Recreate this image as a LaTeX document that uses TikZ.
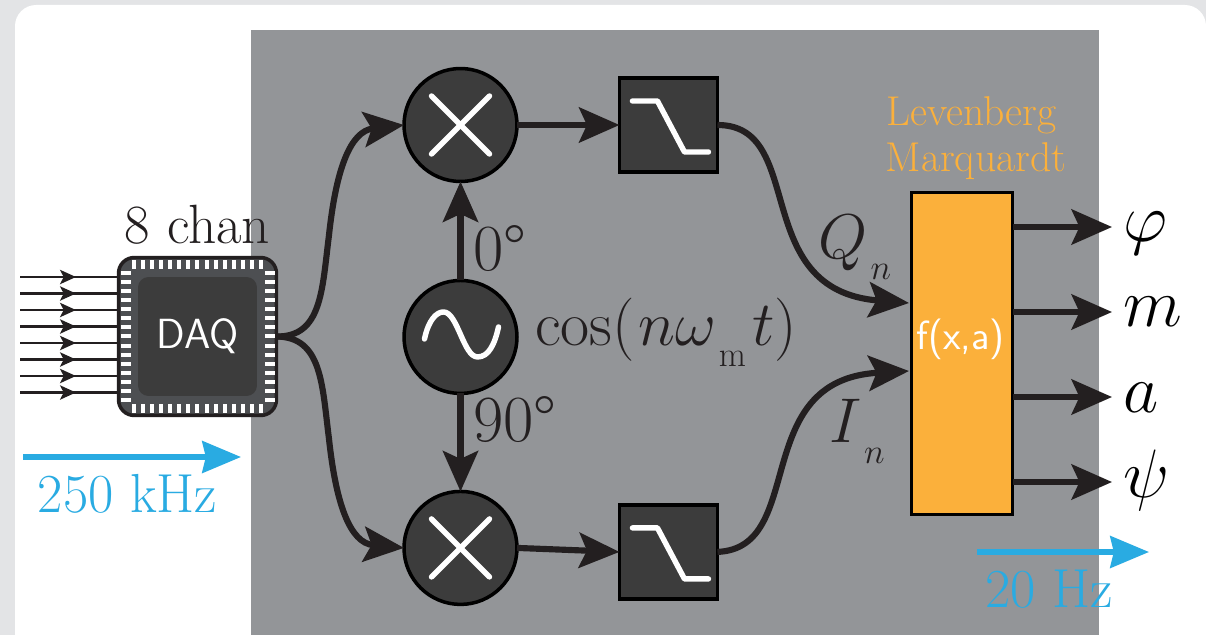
\documentclass[tikz,border=0pt]{standalone}
\usepackage{fix-cm}
\DeclareFontShape{OML}{cmm}{m}{it}{<->cmmi12}{\skewchar\font127 }
\DeclareFontShape{OMS}{cmsy}{m}{n}{<->cmsy10}{\skewchar\font48 }
\definecolor{panelgray}{HTML}{E3E4E6}
\definecolor{boxgray}{HTML}{939598}
\definecolor{darkfill}{HTML}{3C3C3C}
\definecolor{chipfill}{HTML}{4D4F52}
\definecolor{inkblack}{HTML}{231F20}
\definecolor{fitorange}{HTML}{FBB03B}
\definecolor{rateblue}{HTML}{29ABE2}
\usetikzlibrary{arrows.meta, positioning, calc}
\newcommand{\lowsub}[1]{\kern1.5pt\lower12pt\hbox{\fontsize{20}{20}\selectfont$#1$}}
\tikzset{
	mixer/.style={circle, draw=black, fill=darkfill, line width=2pt, minimum size=2.26cm, inner sep=0pt, outer sep=0pt},
	lowpass/.style={rectangle, draw=black, fill=darkfill, line width=2.2pt, minimum width=1.96cm, minimum height=1.88cm, inner sep=0pt, outer sep=0pt},
	chip/.style={rectangle, rounded corners=9pt, draw=inkblack, fill=chipfill, line width=2pt, minimum size=3.16cm, inner sep=0pt, outer sep=0pt},
	chipcore/.style={rectangle, rounded corners=6pt, fill=darkfill, minimum size=2.38cm, inner sep=0pt, text=white, font=\sffamily\fontsize{24}{28}\selectfont},
	fitbox/.style={rectangle, draw=black, fill=fitorange, line width=2.2pt, minimum width=2.02cm, minimum height=6.44cm, inner sep=0pt, outer sep=0pt},
	fitlabel/.style={inner sep=0pt, text=white, font=\sffamily\fontsize{23.2}{26}\selectfont},
	arrow/.style={-{Stealth[length=23pt, width=20pt, inset=4.5pt]}, line width=3.5pt, draw=inkblack},
	inarrow/.style={-{Stealth[length=9pt, width=8pt, inset=2pt]}, line width=1.7pt, draw=inkblack},
	inline/.style={line width=1.7pt, draw=inkblack},
	ratearrow/.style={-{Stealth[length=22pt, width=18pt, inset=2pt]}, line width=3.2pt, draw=rateblue},
	glyph/.style={draw=white, line width=3.1pt, line cap=round, line join=round},
	pin/.style={fill=white},
	maintext/.style={anchor=base, inner sep=0pt, text=inkblack, font=\fontsize{31.5}{36}\selectfont},
	phasetext/.style={anchor=base, inner sep=0pt, text=inkblack, font=\fontsize{37.5}{42}\selectfont},
	ratetext/.style={anchor=base, inner sep=0pt, text=rateblue, font=\fontsize{31.3}{36}\selectfont},
	fittext/.style={anchor=base, inner sep=0pt, text=fitorange, font=\fontsize{23.7}{28}\selectfont},
	outlabel/.style={anchor=west, inner ysep=0pt, inner xsep=0.22cm, text height=0.8cm, text depth=0.2cm, text=black, font=\fontsize{39}{44}\selectfont},
	mathlabel/.style={anchor=base, inner sep=0pt, text=inkblack, font=\fontsize{36}{40}\selectfont},
}

\begin{document}
\begin{tikzpicture}[x=0.02cm, y=-0.02cm]
	\useasboundingbox (0,0) rectangle (1206,635);
	% backgrounds
	\fill[panelgray] (0,0) rectangle (1206,635);
	\fill[white, rounded corners=12pt] (15,5) rectangle (1206,680);
	\fill[boxgray] (251,30) rectangle (1099,635);

	% eight input lines
	\node[chip] (daq) at (197.5,336.5) {};
	\foreach \i in {0,...,7} {
		\coordinate (start\i) at (20,{277+16.5*\i});
		\coordinate (mid\i) at (76,{277+16.5*\i});
		\draw[inline] (start\i) -- (start\i -| daq.west);
		\draw[inarrow] (start\i) -- (mid\i);
	}

	% chip
	\node[chipcore] (core) at (daq.center) {DAQ};
	\foreach \i in {0,...,14} {
		\fill[pin] ({134+9.07*\i-2},260) rectangle ++(4,9);
		\fill[pin] ({134+9.07*\i-2},404) rectangle ++(4,9);
	}
	\foreach \i in {0,...,14} {
		\fill[pin] (121,{273+9.07*\i-2}) rectangle ++(10,4);
		\fill[pin] (265,{273+9.07*\i-2}) rectangle ++(10,4);
	}
	\node[maintext] (chan) at (197.5,243) {8 chan};

	% mixers, oscillator, filters
	\node[mixer] (mixtop) at (460.5,125) {};
	\node[mixer, below=1.98cm of mixtop] (osc) {};
	\node[mixer, below=1.96cm of osc] (mixbot) {};
	\node[lowpass, right=2.05cm of mixtop] (filttop) {};
	\node[lowpass, right=2.05cm of mixbot, yshift=-0.08cm] (filtbot) {};
	\foreach \m in {mixtop, mixbot} {
		\draw[glyph] ([shift={(-29,-29)}]\m.center) -- ([shift={(29,29)}]\m.center);
		\draw[glyph] ([shift={(-29,29)}]\m.center) -- ([shift={(29,-29)}]\m.center);
	}
	\foreach \f in {filttop, filtbot} {
		\draw[glyph] ([shift={(-36,-24)}]\f.center) -- ([shift={(-11,-24)}]\f.center) -- ([shift={(16,27)}]\f.center) -- ([shift={(40,27)}]\f.center);
	}
	\draw[glyph] ([shift={(-36,2)}]osc.center) .. controls ([shift={(-32,-17)}]osc.center) and ([shift={(-24,-25)}]osc.center) .. ([shift={(-17,-25)}]osc.center) .. controls ([shift={(-3,-25)}]osc.center) and ([shift={(3,20)}]osc.center) .. ([shift={(17,20)}]osc.center) .. controls ([shift={(28,20)}]osc.center) and ([shift={(34,8)}]osc.center) .. ([shift={(38,-10)}]osc.center);

	% output box
	\node[fitbox] (fit) at (962,353.5) {};
	\node[fitlabel] (fitname) at (960.5,339) {f(x,a)};
	\node[fittext] (lev) at (971.5,126) {Levenberg};
	\node[fittext] (marq) at (976,171) {Marquardt};
	\coordinate (qin) at (909,303);
	\coordinate (iin) at (909,371);
	\coordinate (uptop) at (329,235);
	\coordinate (upbot) at (329,439);

	% connectors
	\draw[arrow] (daq.east) .. controls (322,337) and (322,290) .. (uptop) .. controls (336,170) and (350,131) .. (mixtop.west);
	\draw[arrow] (daq.east) .. controls (322,337) and (322,384) .. (upbot) .. controls (336,504) and (350,543) .. (mixbot.west);
	\draw[arrow] (osc.north) -- (mixtop.south);
	\draw[arrow] (osc.south) -- (mixbot.north);
	\draw[arrow] (mixtop.east) -- (filttop.west);
	\draw[arrow] (mixbot.east) -- (filtbot.west);
	\draw[arrow] (filttop.east) .. controls (808,125) and (748,290) .. (qin);
	\draw[arrow] (filtbot.east) .. controls (808,548) and (748,380) .. (iin);

	% outputs
	\node[outlabel] (phi) at (1112,227) {$\varphi$};
	\node[outlabel] (mod) at (1112,312) {$m$};
	\node[outlabel] (amp) at (1112,397) {$a$};
	\node[outlabel] (psi) at (1112,482) {$\psi$};
	\foreach \o in {phi, mod, amp, psi} {
		\draw[arrow] (fit.east |- \o.west) -- (\o.west);
	}

	% labels
	\node[phasetext] (zero) at (499.5,270) {0\textdegree};
	\node[phasetext] (ninety) at (515,441) {90\textdegree};
	\node[mathlabel] (cosine) at (666,345) {$\cos(\kern2pt n\omega\lowsub{\mathrm{m}}\kern3.5pt t)$};
	\node[mathlabel] (qn) at (855,258) {$Q\lowsub{n}$};
	\node[mathlabel] (in) at (857,442) {$I\lowsub{n}$};

	% sample rates
	\coordinate (fastl) at (23,457);
	\coordinate (fastr) at (241,457);
	\coordinate (slowl) at (977,552);
	\coordinate (slowr) at (1149,552);
	\draw[ratearrow] (fastl) -- (fastr);
	\draw[ratearrow] (slowl) -- (slowr);
	\node[ratetext] (fast) at (127.5,512) {250 kHz};
	\node[ratetext] (slow) at (1049,607) {20 Hz};
\end{tikzpicture}
\end{document}
